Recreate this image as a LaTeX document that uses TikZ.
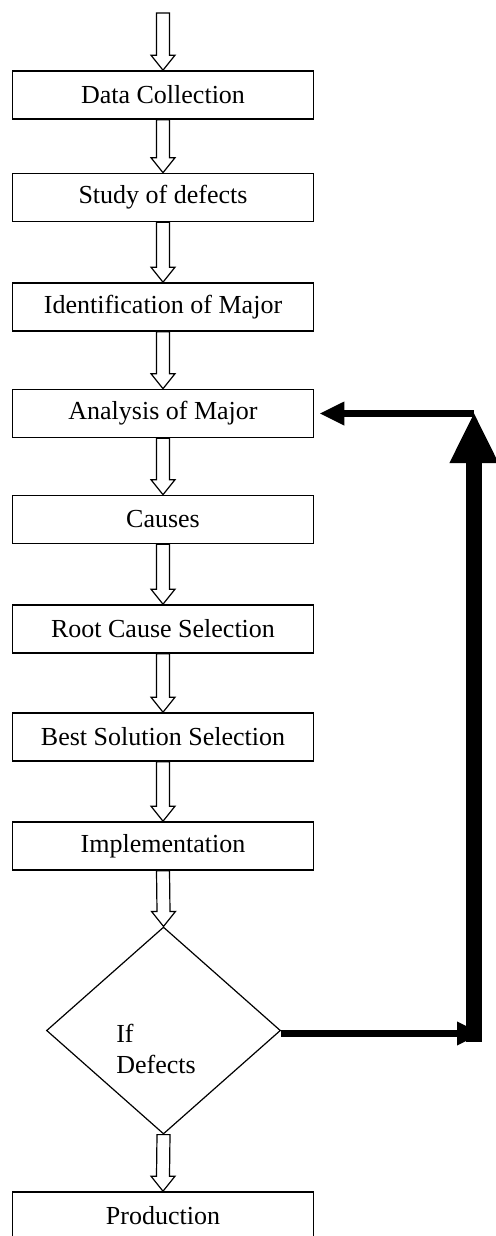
\documentclass[tikz,border=0pt]{standalone}
\usepackage{fontspec}
\setmainfont{Liberation Serif}
\usetikzlibrary{calc,shapes.geometric,arrows.meta}
\begin{document}
\begin{tikzpicture}[x=0.5pt,y=-0.5pt]

\tikzstyle{box}=[draw, line width=0.8pt, minimum width=150.5pt, minimum height=24pt, inner sep=0pt, font=\fontsize{13}{15.5}\selectfont];
\tikzstyle{dia}=[draw, diamond, line width=0.6pt, minimum width=117pt, minimum height=103.5pt, inner sep=0pt];
\tikzstyle{ha}=[draw, line width=0.6pt, fill=white];
\tikzstyle{fb}=[line width=3.8pt, -{Triangle[length=12.5pt, width=11pt]}];
\tikzstyle{fbv}=[line width=8pt, -{Triangle[length=25.5pt, width=22.5pt]}];
\newcommand{\harrow}[2]{\draw[ha] ($(#1)+(-6.5,0)$) -- ($(#2)+(-6.5,-15)$) -- ($(#2)+(-12,-15)$) -- (#2) -- ($(#2)+(12,-15)$) -- ($(#2)+(6.5,-15)$) -- ($(#1)+(6.5,0)$) -- cycle;}

\useasboundingbox (0,0) rectangle (495,1236);

\coordinate (start) at (163,13);
\node[box] (dc) at (163,95) {Data Collection};
\node[box] (sd) at (163,197.5) {Study of defects};
\node[box] (im) at (163,307) {Identification of Major};
\node[box] (am) at (163,413.5) {Analysis of Major};
\node[box] (ca) at (163,519.5) {Causes};
\node[box] (rc) at (163,629) {Root Cause Selection};
\node[box] (bs) at (163,737) {Best Solution Selection};
\node[box] (impl) at (163,846) {Implementation};
\node[dia] (dec) at (163.5,1030.5) {};
\node[align=left, inner sep=0pt, font=\fontsize{13}{15.5}\selectfont] (dectxt) at (156,1048.5) {If\\Defects};
\node[box] (prod) at (163,1216) {Production};

\harrow{start}{dc.north}
\harrow{dc.south}{sd.north}
\harrow{sd.south}{im.north}
\harrow{im.south}{am.north}
\harrow{am.south}{ca.north}
\harrow{ca.south}{rc.north}
\harrow{rc.south}{bs.north}
\harrow{bs.south}{impl.north}
\harrow{impl.south}{dec.north}
\harrow{dec.south}{prod.north}

% feedback loop
\coordinate (cb) at (474,1037);
\coordinate (ct) at (474,412);
\draw[fb] ($(dec.east)+(0,3)$) -- ($(dec.east -| cb)+(8,3)$);
\draw[fbv] ($(cb)+(0,5)$) -- (ct);
\draw[fb] (ct |- am.east) -- ($(am.east)+(5,0)$);
\end{tikzpicture}
\end{document}
